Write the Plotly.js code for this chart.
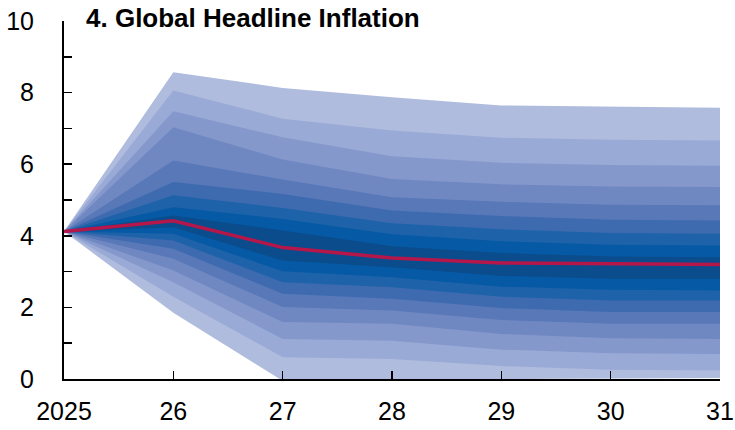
<!DOCTYPE html>
<html>
<head>
<meta charset="utf-8">
<script src="https://cdn.plot.ly/plotly-3.0.1.min.js"></script>
<style>html,body{margin:0;padding:0;background:#fff;}#chart{width:735px;height:430px;}</style>
</head>
<body>
<div id="chart"></div>
<script>
const years = [2025, 2026, 2027, 2028, 2029, 2030, 2031];
const tickLabels = ["2025", "26", "27", "28", "29", "30", "31"];

// Fan chart quantile edges (percent)
const q95 = [4.12, 8.57, 8.13, 7.87, 7.64, 7.60, 7.58];
const q90 = [4.12, 8.06, 7.27, 6.94, 6.74, 6.68, 6.66];
const q85 = [4.12, 7.48, 6.75, 6.22, 6.04, 5.98, 5.96];
const q80 = [4.12, 7.03, 6.13, 5.59, 5.44, 5.38, 5.36];
const q75 = [4.12, 6.10, 5.57, 5.08, 4.95, 4.87, 4.85];
const q70 = [4.12, 5.50, 5.17, 4.71, 4.55, 4.45, 4.43];
const q65 = [4.12, 5.13, 4.78, 4.35, 4.18, 4.08, 4.06];
const q60 = [4.12, 4.80, 4.47, 4.04, 3.85, 3.75, 3.73];
const q55 = [4.12, 4.57, 4.15, 3.71, 3.52, 3.42, 3.40];
const median = [4.12, 4.42, 3.67, 3.38, 3.24, 3.21, 3.20];
const q45 = [4.12, 4.24, 3.31, 3.12, 2.88, 2.80, 2.80];
const q40 = [4.12, 4.06, 3.01, 2.84, 2.58, 2.49, 2.47];
const q35 = [4.12, 3.87, 2.70, 2.56, 2.30, 2.19, 2.19];
const q30 = [4.12, 3.64, 2.38, 2.24, 1.98, 1.87, 1.87];
const q25 = [4.12, 3.36, 2.01, 1.91, 1.65, 1.54, 1.54];
const q20 = [4.12, 3.03, 1.59, 1.54, 1.26, 1.14, 1.12];
const q15 = [4.12, 2.70, 1.12, 1.07, 0.82, 0.72, 0.70];
const q10 = [4.12, 2.30, 0.61, 0.56, 0.36, 0.26, 0.24];
const q05 = [4.12, 1.85, -0.05, -0.02, 0.00, 0.02, 0.03];

const bands = [
  [q05, q95], [q10, q90], [q15, q85], [q20, q80], [q25, q75],
  [q30, q70], [q35, q65], [q40, q60], [q45, q55]
];
const bandColors = ["#B0BCDE", "#9AAAD6", "#8598CC", "#7088C2", "#5878B8",
                    "#3E6BB0", "#1E63A9", "#0659A4", "#0A4C8C"];

const FONT = "'Liberation Sans', Arial, sans-serif";

const traces = bands.map((b, i) => ({
  type: "scatter",
  mode: "lines",
  x: years.concat(years.slice().reverse()),
  y: b[1].concat(b[0].slice().reverse()),
  fill: "toself",
  fillcolor: bandColors[i],
  line: {width: 0, color: bandColors[i]},
  hoverinfo: "skip",
  showlegend: false
}));

traces.push({
  type: "scatter",
  mode: "lines",
  x: years,
  y: median,
  line: {color: "#B5174B", width: 3.5},
  showlegend: false
});

const layout = {
  width: 735,
  height: 430,
  margin: {l: 64, r: 15, t: 21, b: 51},
  paper_bgcolor: "#ffffff",
  plot_bgcolor: "#ffffff",
  showlegend: false,
  font: {family: FONT, size: 25, color: "#000"},
  title: {
    text: "<b>4. Global Headline Inflation</b>",
    font: {family: FONT, size: 26, color: "#000"},
    xref: "container", x: 86 / 735, xanchor: "left",
    yref: "container", y: 1 - 18 / 430, yanchor: "middle"
  },
  xaxis: {
    range: [2025, 2031],
    tickvals: years,
    ticktext: tickLabels,
    ticks: "inside",
    ticklen: 8,
    tickwidth: 1.5,
    tickcolor: "#000",
    showline: true,
    linecolor: "#000",
    linewidth: 2,
    showgrid: false,
    zeroline: false,
    ticklabelstandoff: 9,
    tickfont: {family: FONT, size: 25, color: "#000"}
  },
  yaxis: {
    range: [0, 10],
    dtick: 2,
    tick0: 0,
    ticks: "inside",
    ticklen: 8,
    tickwidth: 1.5,
    tickcolor: "#000",
    minor: {dtick: 1, ticks: "inside", ticklen: 8, tickwidth: 1.5, tickcolor: "#000"},
    showline: true,
    linecolor: "#000",
    linewidth: 2,
    showgrid: false,
    zeroline: false,
    ticklabelstandoff: 23,
    tickfont: {family: FONT, size: 25, color: "#000"}
  }
};

Plotly.newPlot("chart", traces, layout, {displayModeBar: false, staticPlot: true});
</script>
</body>
</html>
